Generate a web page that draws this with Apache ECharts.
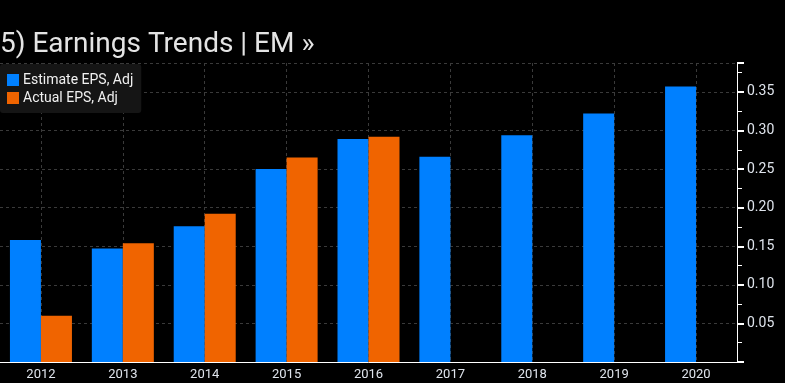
<!DOCTYPE html>
<html>
<head>
<meta charset="utf-8">
<script src="https://cdn.jsdelivr.net/npm/echarts@6/dist/echarts.min.js"></script>
<style>html,body{margin:0;padding:0;background:#000;}#c{width:785px;height:383px;}</style>
</head>
<body>
<div id="c"></div>
<script>
const categories = ['2012','2013','2014','2015','2016','2017','2018','2019','2020'];
const estimateEPS = [0.158, 0.147, 0.176, 0.250, 0.289, 0.266, 0.294, 0.322, 0.357];
const actualEPS = [0.060, 0.154, 0.192, 0.265, 0.292, null, null, null, null];
const seriesNames = ['Estimate EPS, Adj', 'Actual EPS, Adj'];
const titleText = '5) Earnings Trends | EM \u00BB';

const chart = echarts.init(document.getElementById('c'), null, {renderer: 'canvas'});
const txt = '#dfe4ec';
const font = 'Roboto, "Liberation Sans", sans-serif';
chart.setOption({
  backgroundColor: '#000',
  animation: false,
  title: {
    text: titleText, left: 0, top: 31, padding: 0,
    textStyle: {color: '#e4e4e4', fontSize: 28, fontWeight: 'normal', fontFamily: font}
  },
  legend: {
    orient: 'vertical', left: 0, top: 64,
    backgroundColor: '#151515', borderRadius: 3,
    padding: [9, 8, 8, 7], itemGap: 4,
    icon: 'rect', itemWidth: 12, itemHeight: 12,
    textStyle: {color: '#f0f0f0', fontSize: 14, fontFamily: font, padding: [0,0,0,-1]},
    data: seriesNames
  },
  grid: {left: -2, right: 48, top: 63, bottom: 21},
  xAxis: {
    type: 'category', data: categories, boundaryGap: true,
    axisLine: {show: true, lineStyle: {color: '#fff', width: 1}},
    axisTick: {show: false},
    axisLabel: {color: txt, fontSize: 13, fontFamily: font, margin: 6},
    splitLine: {show: true, alignWithLabel: true, lineStyle: {color: '#3a3a3a', type: [3, 3], width: 1}}
  },
  yAxis: {
    type: 'value', position: 'right', min: 0, max: 0.3875, interval: 0.05,
    axisLine: {show: true, lineStyle: {color: '#fff', width: 1}},
    axisTick: {show: true, length: 7, lineStyle: {color: '#fff', width: 2}},
    minorTick: {show: true, splitNumber: 2, length: 5, lineStyle: {color: '#fff', width: 1}},
    axisLabel: {color: txt, fontSize: 14, fontFamily: font, margin: 10, showMaxLabel: false,
      formatter: v => v === 0 ? '' : v.toFixed(2)},
    splitLine: {show: true, lineStyle: {color: '#3a3a3a', type: [3, 3], width: 1}}
  },
  series: [
    {name: seriesNames[0], type: 'bar', data: estimateEPS, barWidth: 31, barGap: '0%',
     itemStyle: {color: '#0080ff'}},
    {name: seriesNames[1], type: 'bar', data: actualEPS, barWidth: 31, barGap: '0%',
     itemStyle: {color: '#f06400'}}
  ]
});
</script>
</body>
</html>
